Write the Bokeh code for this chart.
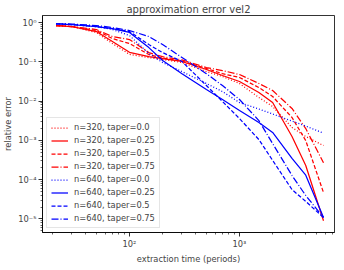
from bokeh.plotting import figure
from bokeh.models import Range1d, FixedTicker, CustomJSTickFormatter, Legend, LegendItem
from bokeh.embed import file_html
from bokeh.resources import INLINE

# extraction time (periods)
x_time = [21.5, 30, 50, 70, 100, 150, 200, 300, 500, 700, 1000, 1500, 2000, 3000, 4000, 5800]

# relative error, n=320
err_320_t000 = [0.84, 0.79, 0.557, 0.292, 0.155, 0.128, 0.115, 0.096, 0.0566, 0.0423, 0.0281, 0.0124, 0.0073, 0.00213, 0.00126, 0.00074]
err_320_t025 = [0.84, 0.79, 0.59, 0.33, 0.175, 0.136, 0.121, 0.102, 0.0637, 0.0448, 0.0315, 0.0166, 0.0092, 0.00126, 0.00023, 9e-6]
err_320_t050 = [0.84, 0.79, 0.626, 0.392, 0.292, 0.153, 0.125, 0.104, 0.0676, 0.050, 0.0399, 0.0222, 0.0131, 0.00383, 0.00099, 4.7e-5]
err_320_t075 = [0.84, 0.79, 0.664, 0.44, 0.369, 0.172, 0.135, 0.112, 0.0716, 0.060, 0.0475, 0.0281, 0.0186, 0.0065, 0.0020, 0.00027]

# relative error, n=640
err_640_t000 = [0.93, 0.89, 0.79, 0.664, 0.467, 0.163, 0.096, 0.0566, 0.0281, 0.0175, 0.0092, 0.0063, 0.0047, 0.0031, 0.00232, 0.00153]
err_640_t025 = [0.93, 0.89, 0.79, 0.70, 0.56, 0.23, 0.108, 0.050, 0.0197, 0.011, 0.0058, 0.00285, 0.0016, 0.00035, 0.00013, 1.09e-5]
err_640_t050 = [0.93, 0.89, 0.79, 0.70, 0.59, 0.275, 0.172, 0.102, 0.0249, 0.0098, 0.0036, 0.00105, 0.00031, 5.6e-5, 2.8e-5, 1.09e-5]
err_640_t075 = [0.93, 0.916, 0.839, 0.746, 0.626, 0.44, 0.275, 0.129, 0.050, 0.0249, 0.011, 0.0032, 0.00083, 0.000128, 3.96e-5, 1.09e-5]

series_labels = ["n=320, taper=0.0", "n=320, taper=0.25", "n=320, taper=0.5", "n=320, taper=0.75",
                 "n=640, taper=0.0", "n=640, taper=0.25", "n=640, taper=0.5", "n=640, taper=0.75"]
series_values = [err_320_t000, err_320_t025, err_320_t050, err_320_t075,
                 err_640_t000, err_640_t025, err_640_t050, err_640_t075]
series_colors = ["#ff0000"] * 4 + ["#0000ff"] * 4
series_dashes = ["1 2", "solid", "4 2", "7 2 1 2"] * 2

x_major = [100, 1000]
x_minor = [20, 30, 40, 50, 60, 70, 80, 90, 200, 300, 400, 500, 600, 700, 800, 900,
           2000, 3000, 4000, 5000, 6000, 7000]
y_major = [1e-5, 1e-4, 1e-3, 1e-2, 1e-1, 1]
y_minor = [m * 10.0 ** k for k in range(-6, 0) for m in range(2, 10)]

FONT = "DejaVu Sans"
FS = "8.3px"
FRAME_W = 292
FRAME_H = 217

p = figure(frame_width=FRAME_W, frame_height=FRAME_H, x_axis_type="log", y_axis_type="log",
           x_range=Range1d(16.2, 7300), y_range=Range1d(4.53e-6, 1.51),
           output_backend="svg", toolbar_location=None,
           min_border_left=34, min_border_right=4, min_border_top=10, min_border_bottom=26,
           title="approximation error vel2")
p.title.text_font = FONT
p.title.text_font_size = "10px"
p.title.text_font_style = "normal"
p.title.align = "center"
p.title.standoff = 2
p.title.offset = 0
p.grid.visible = False
p.outline_line_color = "black"
p.outline_line_width = 0.8
p.background_fill_color = "white"
p.border_fill_color = "white"

fmt = CustomJSTickFormatter(code="""
const sup = {'-':'\u207b','0':'\u2070','1':'\u00b9','2':'\u00b2','3':'\u00b3','4':'\u2074','5':'\u2075','6':'\u2076','7':'\u2077','8':'\u2078','9':'\u2079'};
const e = Math.round(Math.log10(tick)).toString();
return '10' + e.split('').map(c => sup[c]).join('');
""")

p.xaxis.ticker = FixedTicker(ticks=x_major, minor_ticks=x_minor)
p.yaxis.ticker = FixedTicker(ticks=y_major, minor_ticks=y_minor)
for ax in (p.xaxis[0], p.yaxis[0]):
    ax.formatter = fmt
    ax.axis_line_color = "black"
    ax.axis_line_width = 0.8
    ax.major_tick_in = 0
    ax.major_tick_out = 4
    ax.minor_tick_in = 0
    ax.minor_tick_out = 2
    ax.major_tick_line_width = 0.8
    ax.minor_tick_line_width = 0.6
    ax.major_label_text_font = FONT
    ax.major_label_text_font_size = FS
    ax.major_label_standoff = 2
    ax.axis_label_text_font = FONT
    ax.axis_label_text_font_size = FS
    ax.axis_label_text_font_style = "normal"
    ax.axis_label_standoff = 2
p.xaxis.axis_label = "extraction time (periods)"
p.yaxis.axis_label = "relative error"

items = []
for lab, vals, col, dash in zip(series_labels, series_values, series_colors, series_dashes):
    r = p.line(x_time, vals, line_color=col, line_width=1.25, line_dash=dash)
    items.append(LegendItem(label=lab, renderers=[r]))

legend = Legend(items=items, location="bottom_left", margin=4, padding=4, spacing=3,
                label_text_font_size=FS, label_text_font=FONT,
                label_height=9, glyph_height=9, glyph_width=17, label_standoff=6,
                border_line_color="#cccccc", border_line_width=1,
                background_fill_color="white", background_fill_alpha=0.8)
p.add_layout(legend)

open("out.html", "w").write(file_html(p, INLINE))
